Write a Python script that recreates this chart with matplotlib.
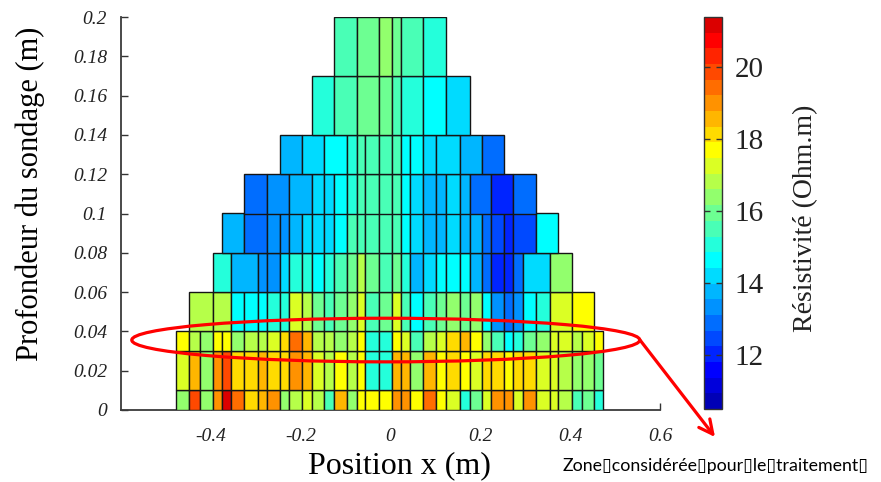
import numpy as np
import matplotlib
matplotlib.use('Agg')
import matplotlib.pyplot as plt
from matplotlib.colors import ListedColormap, Normalize
from matplotlib.cm import ScalarMappable
from matplotlib.patches import Ellipse

plt.rcParams['font.family'] = ['Liberation Serif', 'DejaVu Serif']

# cell boundaries along x (m), shared by all depth rows
x_edges = [-0.478, -0.448, -0.424, -0.396, -0.376, -0.355, -0.326, -0.296, -0.276,
           -0.247, -0.226, -0.196, -0.175, -0.149, -0.125, -0.096, -0.075, -0.056,
           -0.026, 0.003, 0.023, 0.043, 0.073, 0.101, 0.124, 0.155, 0.176, 0.204,
           0.224, 0.253, 0.273, 0.295, 0.324, 0.354, 0.374, 0.403, 0.426, 0.452, 0.474]

# depth rows (bottom, top) in m
row_depths = [(0.0, 0.01), (0.01, 0.03), (0.03, 0.04), (0.04, 0.06), (0.06, 0.08),
              (0.08, 0.10), (0.10, 0.12), (0.12, 0.14), (0.14, 0.17), (0.17, 0.20)]

# which x_edges each row uses
full = list(range(39))
idx_g = [1, 3] + list(range(5, 34)) + [35, 37]
idx_f = [3, 5] + list(range(7, 32)) + [33, 35]
idx_e = [4, 6] + list(range(8, 31)) + [32, 34]
idx_d = [6, 8, 10] + list(range(12, 27)) + [28, 30, 32]
idx_c = [9, 11, 13] + list(range(15, 24)) + [25, 27, 29]
idx_b = [12, 14, 16, 18, 19, 20, 22, 24, 26]
idx_a = [14, 16, 18, 19, 20, 22, 24]

# resistivity (Ohm.m) per cell, bottom row first
rho_j = [16.4, 19.9, 16.4, 19.0, 21.2, 19.4, 18.1, 18.6, 19.0, 16.4, 16.8, 17.3, 16.8,
         15.5, 18.6, 16.4, 17.7, 17.7, 17.7, 19.0, 19.0, 17.7, 19.4, 17.7, 17.3, 15.1,
         16.0, 17.3, 19.0, 19.0, 17.3, 19.0, 17.3, 17.3, 16.8, 15.5, 16.0, 15.1]
rho_i = [17.3, 18.6, 16.4, 19.0, 19.9, 18.1, 18.1, 18.6, 18.1, 18.1, 19.0, 18.6, 17.3,
         16.8, 17.7, 16.8, 17.7, 15.1, 15.1, 18.6, 18.6, 16.4, 18.6, 17.7, 18.1, 17.7,
         17.3, 18.1, 18.1, 17.7, 18.1, 18.1, 17.3, 17.3, 16.8, 16.4, 16.4, 16.0]
rho_h = [17.7, 16.8, 16.4, 17.7, 17.7, 16.4, 16.8, 16.8, 17.3, 18.1, 19.4, 18.6, 16.8,
         16.8, 16.4, 16.8, 17.7, 15.1, 15.1, 17.7, 17.3, 15.5, 16.8, 17.3, 18.1, 18.6,
         17.7, 16.4, 15.5, 14.6, 15.1, 16.0, 16.4, 17.3, 17.3, 16.8, 17.3, 17.7]
rho_g = [16.8, 16.8, 14.6, 14.6, 14.6, 15.1, 15.1, 17.3, 16.8, 16.0, 15.5, 16.0, 16.4,
         17.3, 15.5, 16.0, 17.3, 15.5, 14.6, 15.5, 16.0, 16.4, 16.0, 16.4, 14.6, 13.3,
         12.9, 13.3, 14.6, 15.1, 17.3, 17.7]
rho_f = [15.1, 13.8, 13.3, 13.3, 14.2, 15.1, 15.1, 14.6, 15.1, 15.5, 16.0, 16.8, 16.0,
         15.5, 16.0, 15.1, 13.8, 14.2, 14.6, 14.6, 14.6, 13.8, 12.9, 12.0, 12.0, 12.9,
         14.2, 16.4]
rho_e = [13.8, 12.9, 13.3, 13.3, 13.8, 14.2, 14.2, 14.2, 14.6, 15.5, 15.5, 15.5, 15.5,
         15.5, 14.6, 14.2, 13.8, 13.8, 14.2, 13.8, 13.8, 12.9, 12.5, 12.0, 12.5, 14.6]
rho_d = [12.9, 13.3, 13.8, 14.2, 14.2, 14.6, 15.1, 15.5, 15.5, 15.5, 15.5, 14.6, 14.2,
         13.8, 13.8, 14.2, 13.8, 12.9, 12.0, 12.9]
rho_c = [13.8, 14.2, 14.6, 15.1, 15.5, 15.5, 15.5, 15.5, 14.6, 14.6, 14.2, 14.2, 13.8, 12.9]
rho_b = [15.1, 15.5, 16.0, 16.0, 15.5, 15.1, 14.6, 14.2]
rho_a = [15.5, 16.0, 16.4, 16.0, 15.5, 15.1]

row_idx = [full, full, full, idx_g, idx_f, idx_e, idx_d, idx_c, idx_b, idx_a]
row_rho = [rho_j, rho_i, rho_h, rho_g, rho_f, rho_e, rho_d, rho_c, rho_b, rho_a]

xticks = [-0.4, -0.2, 0, 0.2, 0.4, 0.6]
xticklabels = ['-0.4', '-0.2', '0', '0.2', '0.4', '0.6']
yticks = [0, 0.02, 0.04, 0.06, 0.08, 0.1, 0.12, 0.14, 0.16, 0.18, 0.2]
yticklabels = ['0', '0.02', '0.04', '0.06', '0.08', '0.1', '0.12', '0.14', '0.16', '0.18', '0.2']
cbar_ticks = [12, 14, 16, 18, 20]
rho_min, rho_max = 10.5, 21.4


def matlab_jet(m):
    # same construction as MATLAB's jet(m)
    n = int(np.ceil(m / 4))
    u = np.r_[np.arange(1, n + 1) / n, np.ones(n - 1), np.arange(n, 0, -1) / n]
    g = int(np.ceil(n / 2)) - int(m % 4 == 1) + np.arange(1, len(u) + 1)
    r = g + n
    b = g - n
    J = np.zeros((m, 3))
    gk = g[g <= m]
    rk = r[r <= m]
    bk = b[b >= 1]
    J[gk - 1, 1] = u[:len(gk)]
    J[rk - 1, 0] = u[:len(rk)]
    J[bk - 1, 2] = u[len(u) - len(bk):]
    return ListedColormap(J)


cmap = matlab_jet(25)
norm = Normalize(rho_min, rho_max)
edges = np.array(x_edges)

fig = plt.figure(figsize=(8.81, 4.82), dpi=100)
ax = fig.add_axes([121 / 881, 72 / 482, 539 / 881, 393 / 482])

for (y0, y1), idx, rho in zip(row_depths, row_idx, row_rho):
    e = edges[idx]
    ax.bar(e[:-1], y1 - y0, width=np.diff(e), bottom=y0, align='edge',
           color=cmap(norm(rho)), edgecolor='#151515', linewidth=1.0, zorder=3)

ax.set_xlim(-0.6, 0.6)
ax.set_ylim(0, 0.2)
ax.set_xticks(xticks)
ax.set_xticklabels(xticklabels, style='italic')
ax.set_yticks(yticks)
ax.set_yticklabels(yticklabels, style='italic')
ax.tick_params(axis='both', direction='in', length=5, width=1, labelsize=14,
               colors='#333333', labelcolor='#222222')
ax.tick_params(axis='y', pad=10)
ax.tick_params(axis='x', pad=13)
for s in ['top', 'right']:
    ax.spines[s].set_visible(False)
for s in ['left', 'bottom']:
    ax.spines[s].set_color('#3a3a3a')
    ax.spines[s].set_linewidth(1.3)

ax.set_xlabel('Position x (m)', fontsize=23, va='center')
ax.xaxis.set_label_coords(0.516, -0.143)
ax.set_ylabel('Profondeur du sondage (m)', fontsize=22, va='center')
ax.yaxis.set_label_coords(-0.168, 0.55)

# colour bar
cax = fig.add_axes([704 / 881, 73 / 482, 18 / 881, 392 / 482])
cb = fig.colorbar(ScalarMappable(norm=norm, cmap=cmap), cax=cax, ticks=cbar_ticks)
cb.ax.tick_params(direction='in', length=4, width=1, left=True, right=True,
                  labelleft=False, labelsize=21, pad=9, colors='#333333',
                  labelcolor='#222222')
cb.outline.set_edgecolor('#333333')
cb.outline.set_linewidth(1.0)
fig.text(806 / 881, 1 - 218 / 482, 'Résistivité (Ohm.m)', rotation=90,
         ha='center', va='center', fontsize=20, color='#222222')

# highlighted zone and arrow
ax.add_patch(Ellipse((-0.0105, 0.0356), 1.131, 0.0222, fill=False,
                     edgecolor='red', linewidth=2.3, zorder=5, clip_on=False))
ax.annotate('', xy=(715 / 881, 1 - 437 / 482), xycoords='figure fraction',
            xytext=(0.5555, 0.0356), textcoords='data',
            arrowprops=dict(arrowstyle='->, head_length=1.0, head_width=0.5',
                            color='red', lw=2.3, shrinkA=0, shrinkB=0))
fig.text(563 / 881, 1 - 466 / 482,
         'Zone\u25afconsidérée\u25afpour\u25afle\u25aftraitement\u25af',
         family=['Lato', 'DejaVu Sans'], fontsize=12.8, ha='left', va='center')

fig.savefig('out.png', dpi=100)
